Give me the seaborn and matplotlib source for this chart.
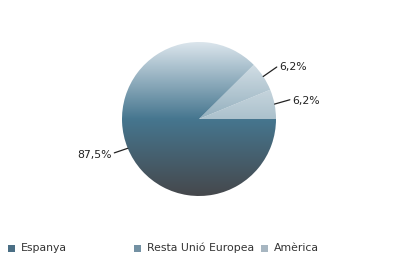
import numpy as np
import matplotlib
matplotlib.use("Agg")
import matplotlib.pyplot as plt
import seaborn as sns
from matplotlib.colors import to_rgb
from matplotlib.patches import Rectangle

categories = ["Espanya", "Resta Unió Europea", "Amèrica"]
values = [87.5, 6.2, 6.2]
labels = ["87,5%", "6,2%", "6,2%"]

sns.set_style("white")
plt.rcParams['font.family'] = ['DejaVu Sans']

W, H = 398, 274
fig = plt.figure(figsize=(W / 100, H / 100), dpi=100)
cx, cy, r = 199, 119, 77
ax = fig.add_axes([(cx - r) / W, (H - cy - r) / H, 2 * r / W, 2 * r / H])

# draw in order: Amèrica, Resta, Espanya counter-clockwise from 0 deg
order = [2, 1, 0]
wedges, _ = ax.pie([values[i] for i in order], startangle=0, counterclock=True,
                   radius=1, center=(0, 0), colors=["none"] * 3,
                   wedgeprops=dict(linewidth=0))
ax.set_xlim(-1, 1)
ax.set_ylim(-1, 1)
ax.set_aspect("equal")
ax.axis("off")

top = np.array(to_rgb("#dbe5ec"))
mid = np.array(to_rgb("#46768f"))
bot = np.array(to_rgb("#45484c"))
n = 300
t = np.linspace(0, 1, n)[:, None]  # 0 top, 1 bottom
tm = 0.5
grad = np.where(t < tm, top + (mid - top) * (t / tm),
                mid + (bot - mid) * ((t - tm) / (1 - tm)))
grad = np.repeat(grad[:, None, :], 2, axis=1)

tints = {0: 0.0, 1: 0.42, 2: 0.55}
for w, i in zip(wedges, order):
    img = grad + (1 - grad) * tints[i]
    im = ax.imshow(img, extent=(-1, 1, -1, 1), aspect="auto", zorder=1)
    im.set_clip_path(w)
ax.set_xlim(-1, 1)
ax.set_ylim(-1, 1)

# labels with leader lines
fracs = np.array([values[i] for i in order]) / sum(values)
angles = np.cumsum(fracs) * 360
starts = np.concatenate([[0], angles[:-1]])
texts = {0: ((-1.10, -0.44), (-1.13, -0.47), "right"),
         1: ((1.01, 0.675), (1.04, 0.675), "left"),
         2: ((1.18, 0.25), (1.21, 0.23), "left")}
for k, i in enumerate(order):
    a = np.deg2rad((starts[k] + angles[k]) / 2)
    p = (np.cos(a), np.sin(a))
    lend, tpos, ha = texts[i]
    ax.plot([p[0], lend[0]], [p[1], lend[1]], color="#222222", lw=0.9,
            clip_on=False, zorder=3)
    ax.text(tpos[0], tpos[1], labels[i], ha=ha, va="center", fontsize=7.8,
            color="#222222", clip_on=False)

# legend
leg_colors = ["#4b6f85", "#7391a3", "#a7b6c1"]
sq_x = [8, 134, 261]
tx_x = [21, 147, 274]
ly = 248
for c, name, sx, tx in zip(leg_colors, categories, sq_x, tx_x):
    fig.patches.append(Rectangle((sx / W, (H - ly - 3.5) / H), 7 / W, 7 / H,
                                 transform=fig.transFigure, facecolor=c,
                                 edgecolor="none"))
    fig.text(tx / W, (H - ly) / H, name, ha="left", va="center",
             fontsize=7.8, color="#333333")

fig.savefig("out.png", dpi=100, facecolor="white")
